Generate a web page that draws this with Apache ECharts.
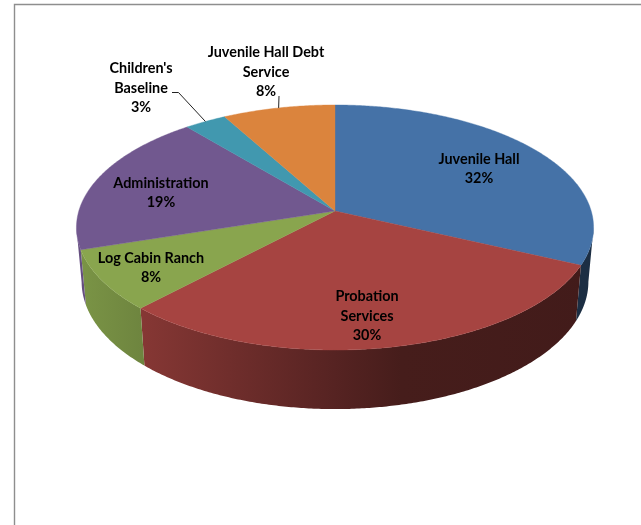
<!DOCTYPE html>
<html>
<head>
<meta charset="utf-8">
<style>html,body{margin:0;padding:0;background:#fff}#main{width:641px;height:525px}</style>
<script src="https://cdn.jsdelivr.net/npm/echarts@6/dist/echarts.min.js"></script>
</head>
<body>
<div id="main"></div>
<script>
// Budget shares, clockwise from twelve o'clock
const categories = ['Juvenile Hall', 'Probation\nServices', 'Log Cabin Ranch', 'Administration', "Children's\nBaseline", 'Juvenile Hall Debt\nService'];
const shares = [32, 30, 8, 19, 3, 8];
const colors = ['#4572a7', '#a64441', '#89a54e', '#71588f', '#4198af', '#db843d'];

// Text block centres, and the start of a leader line where a label sits outside the disc
const labelCentres = [[479, 169], [367, 316], [151, 268], [161, 193], [141, 88], [266, 72]];
const leaderStarts = [null, null, null, null, [[172, 92.5], [178.5, 92.5]], [[279, 96]]];

// Perspective disc: (u, v) on the unit circle, v pointing at the viewer
const disc = { cx: 335, cy: 211, a: 256.2, b: 120.3, k: 0.1347, depth: 53.5, shrink: 0.98, left: 76, right: 593 };

function project(turn, lower) {
  const t = turn * 2 * Math.PI;
  const u = Math.sin(t), v = -Math.cos(t);
  const d = 1 - disc.k * v;
  const f = lower ? disc.shrink : 1;
  return [
    disc.cx + f * disc.a * u / d,
    disc.cy + f * disc.b * v / d + (lower ? disc.depth / d : 0)
  ];
}

const total = shares.reduce((s, x) => s + x, 0);
function sliceRange(i) {
  let before = 0;
  for (let j = 0; j < i; j++) before += shares[j];
  return [before / total, (before + shares[i]) / total];
}

// Wall brightness falls off from left to right, as if lit from the left
const shadeStops = [[0, 0.9], [0.11, 0.82], [0.5, 0.52], [0.63, 0.42], [1, 0.4]];
function shaded(hex, s) {
  const n = parseInt(hex.slice(1), 16);
  const c = [n >> 16, (n >> 8) & 255, n & 255].map(x => Math.round(x * s));
  return 'rgb(' + c.join(',') + ')';
}

function renderWall(params) {
  const [from, to] = sliceRange(params.dataIndex);
  // The rim shows from its widest points (v = k) round to the front
  const upper = [], lower = [];
  const n = Math.ceil((to - from) * 720);
  for (let i = 0; i <= n; i++) {
    const t = from + (to - from) * i / n;
    if (-Math.cos(t * 2 * Math.PI) < disc.k) continue;
    upper.push(project(t));
    lower.push(project(t, true));
  }
  if (!upper.length) return { type: 'group', children: [] };
  const base = colors[params.dataIndex];
  return {
    type: 'polygon',
    shape: { points: upper.concat(lower.reverse()) },
    style: {
      fill: new echarts.graphic.LinearGradient(disc.left, 0, disc.right, 0,
        shadeStops.map(([p, s]) => ({ offset: p, color: shaded(base, s) })), true)
    }
  };
}

function renderTop(params) {
  const [from, to] = sliceRange(params.dataIndex);
  const points = [[disc.cx, disc.cy]];
  const n = Math.ceil((to - from) * 720);
  for (let i = 0; i <= n; i++) points.push(project(from + (to - from) * i / n));
  const fill = colors[params.dataIndex];
  return {
    type: 'polygon',
    shape: { points: points },
    style: { fill: fill, stroke: fill, lineWidth: 0.4 }
  };
}

function renderLabel(params) {
  const i = params.dataIndex;
  const [from, to] = sliceRange(i);
  const children = [{
    type: 'text',
    style: {
      text: categories[i] + '\n' + shares[i] + '%',
      x: labelCentres[i][0],
      y: labelCentres[i][1],
      align: 'center',
      verticalAlign: 'middle',
      fontFamily: 'Lato',
      fontWeight: 'bold',
      fontSize: 14.4,
      lineHeight: 19.5,
      fill: '#000'
    }
  }];
  if (leaderStarts[i]) {
    children.push({
      type: 'polyline',
      shape: { points: leaderStarts[i].concat([project((from + to) / 2)]) },
      style: { fill: null, stroke: '#222', lineWidth: 1 }
    });
  }
  return { type: 'group', children: children };
}

const chart = echarts.init(document.getElementById('main'), null, { renderer: 'canvas' });
chart.setOption({
  animation: false,
  backgroundColor: '#fff',
  graphic: [{
    type: 'polyline',
    silent: true,
    shape: { points: [[14.5, 525], [14.5, 4.5], [641, 4.5]] },
    style: { fill: null, stroke: '#8e8e8e', lineWidth: 1.4 }
  }],
  series: [
    { type: 'custom', coordinateSystem: 'none', z: 1, silent: true, data: shares, renderItem: renderWall },
    { type: 'custom', coordinateSystem: 'none', z: 2, silent: true, data: shares, renderItem: renderTop },
    { type: 'custom', coordinateSystem: 'none', z: 3, silent: true, data: shares, renderItem: renderLabel }
  ]
});
</script>
</body>
</html>
